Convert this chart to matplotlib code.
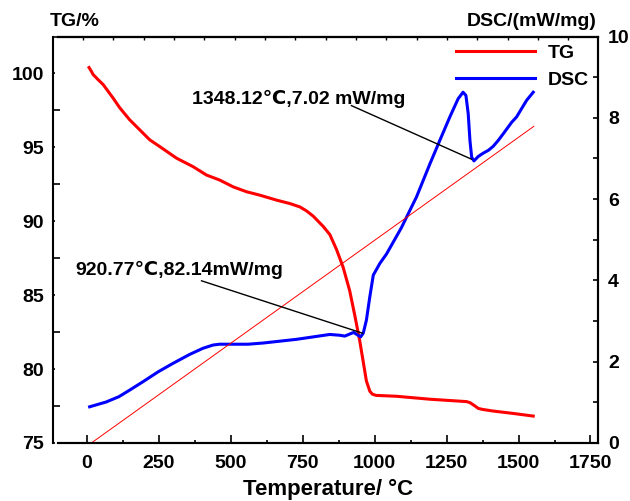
import matplotlib
matplotlib.use("Agg")
import matplotlib.pyplot as plt
from matplotlib.ticker import MultipleLocator, NullFormatter

plt.rcParams['font.family'] = ['Liberation Sans', 'DejaVu Sans']
plt.rcParams['font.weight'] = 'bold'

# TG curve (left axis, %)
tg_temp = [7, 15, 21, 38, 56, 73, 90, 114, 148, 183, 218, 253, 311, 369, 415, 461,
           508, 554, 600, 659, 705, 740, 763, 786, 821, 844, 867, 890, 913, 931,
           948, 960, 971, 983, 992, 1005, 1076, 1192, 1319, 1331, 1345, 1360, 1375,
           1412, 1481, 1551]
tg_val = [100.4, 100.15, 99.93, 99.59, 99.25, 98.8, 98.35, 97.67, 96.87, 96.19,
          95.51, 95.05, 94.27, 93.69, 93.13, 92.79, 92.33, 92.0, 91.77, 91.43,
          91.2, 90.97, 90.7, 90.35, 89.65, 89.1, 88.1, 86.9, 85.3, 83.6, 81.9, 80.5,
          79.2, 78.5, 78.3, 78.22, 78.16, 77.96, 77.8, 77.73, 77.55, 77.34, 77.27,
          77.16, 77.0, 76.82]

# DSC curve (right axis, mW/mg)
dsc_temp = [9, 67, 111, 148, 195, 247, 299, 357, 403, 438, 461, 496, 560, 613, 728,
            786, 844, 879, 896, 913, 927, 942, 951, 960, 971, 983, 995, 1018, 1041,
            1065, 1093, 1122, 1145, 1192, 1226, 1261, 1290, 1307, 1317, 1325, 1331,
            1337, 1345, 1360, 1377, 1395, 1412, 1430, 1447, 1476, 1493, 1510, 1528,
            1551]
dsc_val = [0.89, 1.01, 1.14, 1.3, 1.51, 1.75, 1.96, 2.18, 2.33, 2.41, 2.43, 2.43,
           2.43, 2.46, 2.55, 2.61, 2.67, 2.65, 2.63, 2.68, 2.72, 2.65, 2.61, 2.7,
           3.02, 3.6, 4.13, 4.42, 4.65, 4.95, 5.3, 5.72, 6.05, 6.87, 7.44, 8.02,
           8.47, 8.63, 8.55, 8.1, 7.44, 7.03, 6.94, 7.05, 7.13, 7.2, 7.3, 7.45,
           7.61, 7.89, 8.02, 8.22, 8.43, 8.63]

# thin baseline drawn on the DSC axis
base_temp = [15, 1553]
base_val = [0.0, 7.79]

# annotated points: (label, text pos, line start, line end) in DSC axis coords
notes = [
    ("1348.12\u2103,7.02 mW/mg", (366, 8.47), (919, 8.30), (1337, 6.98)),
    ("920.77\u2103,82.14mW/mg", (-39, 4.25), (398, 3.99), (958, 2.70)),
]

fig = plt.figure(figsize=(6.3, 5.01), dpi=100)
fig.subplots_adjust(left=0.0925, right=0.9487, bottom=0.1158, top=0.9271)
ax = fig.add_subplot(111)
ax2 = ax.twinx()

l_tg, = ax.plot(tg_temp, tg_val, color='#ff0000', lw=2.2, label='TG')
l_dsc, = ax2.plot(dsc_temp, dsc_val, color='#0000ff', lw=2.2, label='DSC')
ax2.plot(base_temp, base_val, color='#ff0000', lw=0.7)

for txt, tpos, p0, p1 in notes:
    ax2.text(tpos[0], tpos[1], txt, fontsize=14, fontweight='bold', va='center', ha='left',
             family=['Liberation Sans', 'DejaVu Sans'])
    ax2.plot([p0[0], p1[0]], [p0[1], p1[1]], color='black', lw=1.0)

ax.set_xlim(-100, 1775)
ax.set_ylim(75, 102.5)
ax2.set_ylim(0, 10)

ax.xaxis.set_major_locator(MultipleLocator(250))
ax.xaxis.set_minor_locator(MultipleLocator(125))
ax.yaxis.set_major_locator(MultipleLocator(5))
ax.yaxis.set_minor_locator(MultipleLocator(2.5))
ax2.yaxis.set_major_locator(MultipleLocator(2))
ax2.yaxis.set_minor_locator(MultipleLocator(1))

for a in (ax, ax2):
    for s in a.spines.values():
        s.set_linewidth(1.5)
ax2.spines['left'].set_visible(False)
ax.spines['left'].set_position(('outward', 4))

ax.tick_params(axis='x', which='major', direction='in', length=5.8, width=1.2,
               labelsize=14, pad=8.5, top=False)
ax.tick_params(axis='x', which='minor', direction='in', length=2.4, width=1.2, top=False)
ax.tick_params(axis='y', which='major', direction='in', length=1.5, width=1.2,
               labelsize=14, pad=6.5)
ax.tick_params(axis='y', which='minor', direction='in', length=5, width=1.2)
ax2.tick_params(axis='y', which='major', direction='in', length=3.6, width=1.2,
                labelsize=14, pad=7.5)
ax2.tick_params(axis='y', which='minor', direction='in', length=3.6, width=1.2)

# unlabelled ticks along the top edge
top = ax.secondary_xaxis('top', functions=(lambda t: (t + 13.9) / 105.4,
                                           lambda u: u * 105.4 - 13.9))
top.xaxis.set_major_locator(MultipleLocator(1))
top.xaxis.set_major_formatter(NullFormatter())
top.tick_params(direction='in', length=2.2, width=1.0)
top.spines['top'].set_linewidth(1.5)

ax.legend([l_tg, l_dsc], ['TG', 'DSC'], loc='upper right', frameon=False,
          bbox_to_anchor=(0.984, 0.9815), borderpad=0, borderaxespad=0,
          handlelength=4.1, handletextpad=0.65, labelspacing=0.48,
          prop={'size': 14, 'weight': 'bold'})

fig.text(50 / 630, 1 - 21.7 / 501, 'TG/%', fontsize=14, fontweight='bold',
         ha='left', va='center')
fig.text(596.7 / 630, 1 - 21 / 501, 'DSC/(mW/mg)', fontsize=14, fontweight='bold',
         ha='right', va='center')
fig.text(328 / 630, 1 - 495 / 501, 'Temperature/ \u00b0C', fontsize=16,
         fontweight='bold', ha='center', va='baseline')

fig.savefig('out.png', dpi=100)
